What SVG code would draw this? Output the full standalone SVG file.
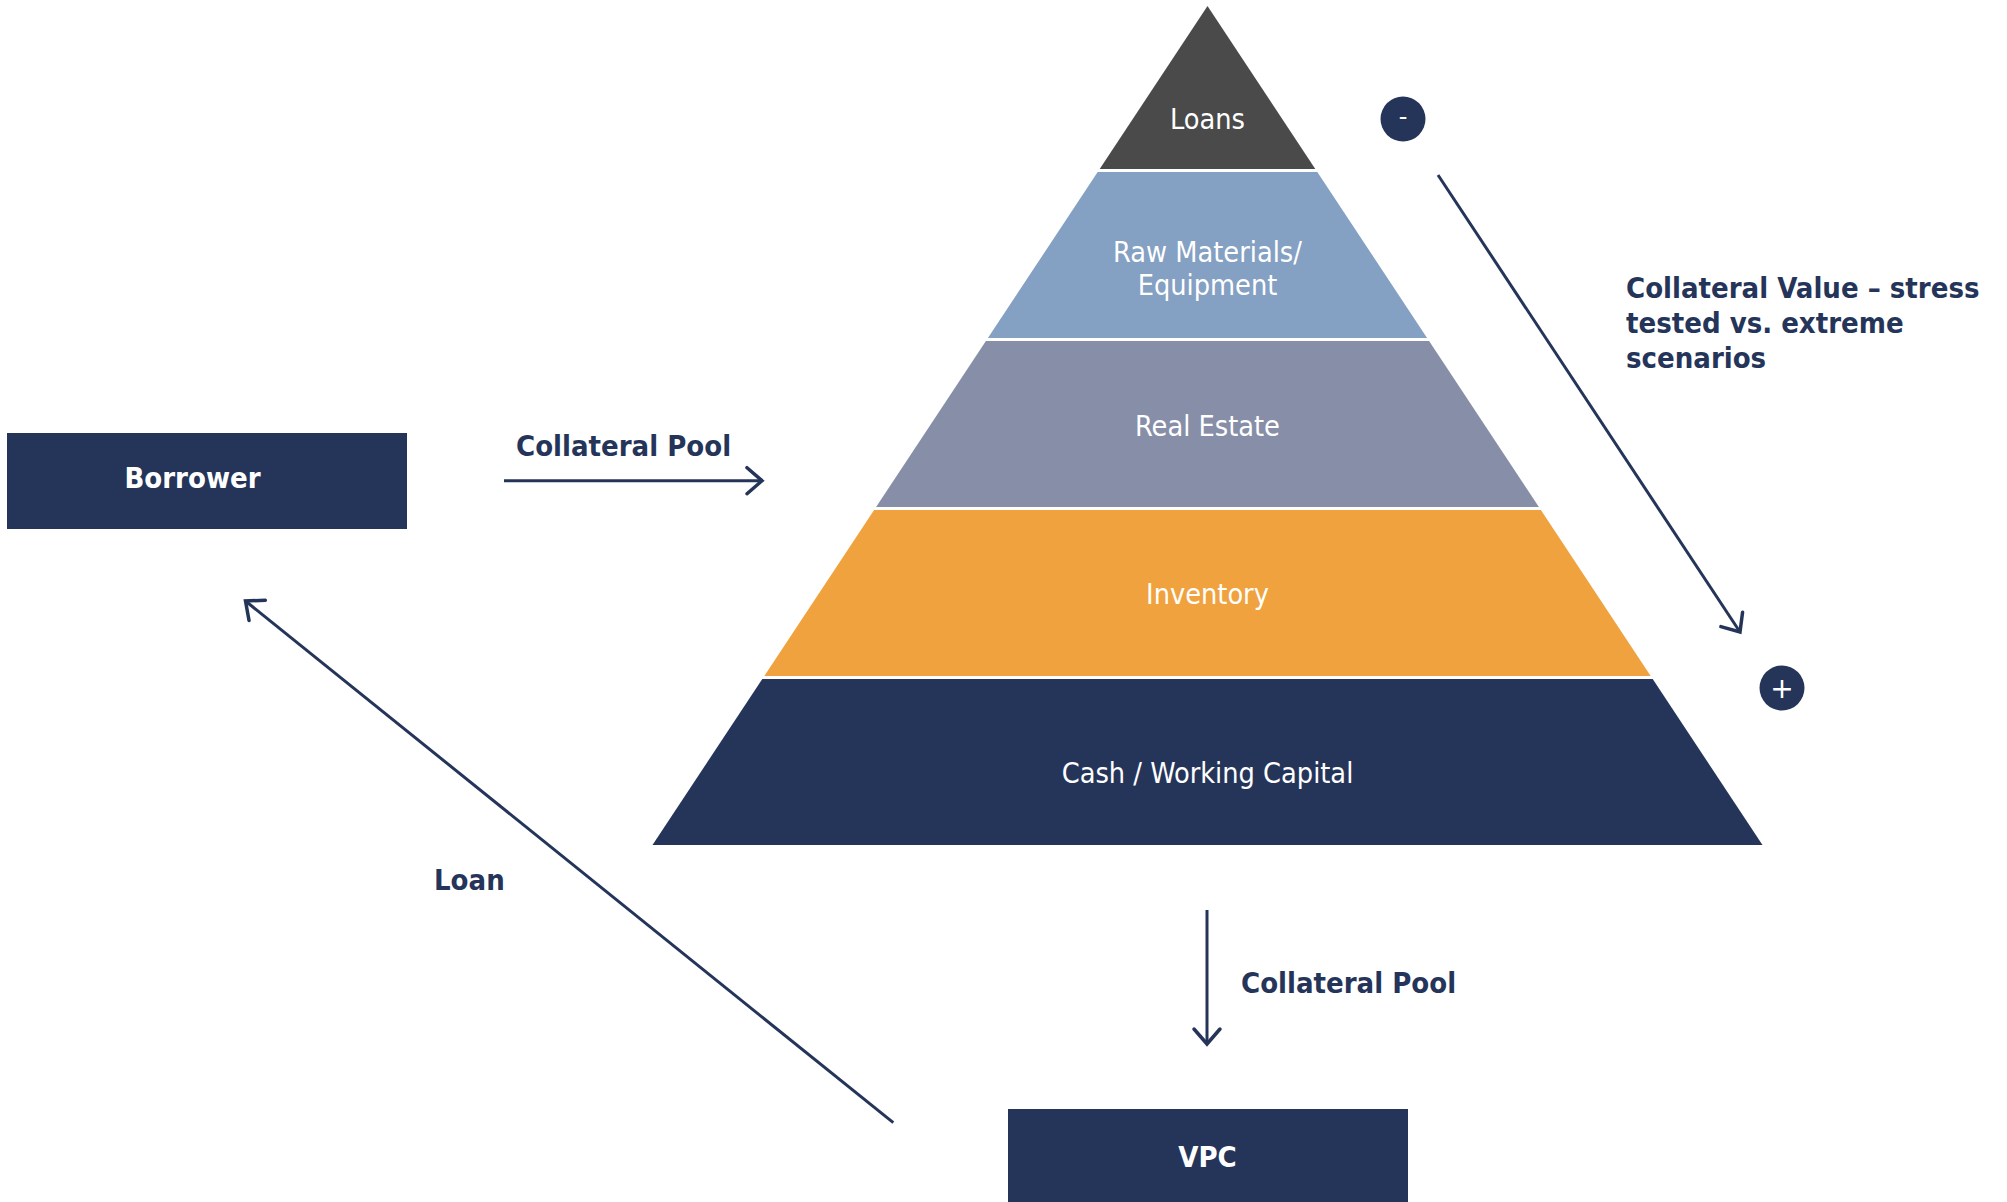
<svg xmlns="http://www.w3.org/2000/svg" width="2007" height="1202" viewBox="0 0 2007 1202">
<style>
.box{fill:#25355a}
.lbl{font-family:"DejaVu Sans Condensed","DejaVu Sans",sans-serif;font-weight:bold;font-size:29px;fill:#25355a}
.boxt{font-family:"DejaVu Sans Condensed","DejaVu Sans",sans-serif;font-weight:bold;font-size:29px;fill:#ffffff;text-anchor:middle}
.lay{font-family:"DejaVu Sans Condensed","DejaVu Sans",sans-serif;font-size:28.6px;fill:#ffffff;text-anchor:middle}
.sym{font-family:"DejaVu Sans",sans-serif;fill:#ffffff;text-anchor:middle}
.conn{stroke:#25355a;stroke-width:3;fill:none}
</style>
<defs>
<marker id="arr" markerUnits="userSpaceOnUse" markerWidth="40" markerHeight="40" refX="0" refY="0" viewBox="-20 -20 40 40" orient="auto">
<path d="M -15,-13 L 0,0 L -15,13" fill="none" stroke="#25355a" stroke-width="3.5" stroke-linecap="round" stroke-linejoin="miter"/>
</marker>
</defs>
<rect width="2007" height="1202" fill="#ffffff"/>
<g id="pyramid">
<g id="layer-loans"><polygon points="1207.5,6 1315.3,169 1099.7,169" fill="#4a4a4a"/><text class="lay" x="1207.5" y="129">Loans</text></g>
<g id="layer-raw"><polygon points="1097.7,172 1317.3,172 1427.1,338 987.9,338" fill="#84a0c2"/><text class="lay" x="1207.5" y="262">Raw Materials/</text><text class="lay" x="1207.5" y="295">Equipment</text></g>
<g id="layer-realestate"><polygon points="985.9,341 1429.1,341 1538.9,507 876.1,507" fill="#878ea8"/><text class="lay" x="1207.5" y="436">Real Estate</text></g>
<g id="layer-inventory"><polygon points="874.1,510 1540.9,510 1650.7,676 764.3,676" fill="#f0a23e"/><text class="lay" x="1207.5" y="604">Inventory</text></g>
<g id="layer-cash"><polygon points="762.3,679 1652.7,679 1762.5,845 652.5,845" fill="#25355a"/><text class="lay" x="1207.5" y="783">Cash / Working Capital</text></g>
</g>
<g id="borrower"><rect class="box" x="7" y="433" width="400" height="96"/><text class="boxt" x="192.5" y="488">Borrower</text></g>
<g id="vpc"><rect class="box" x="1008" y="1109" width="400" height="95"/><text class="boxt" x="1207.5" y="1167">VPC</text></g>
<g id="minus"><circle cx="1403" cy="119" r="22.5" fill="#25355a"/><text class="sym" x="1403" y="125" font-size="24">-</text></g>
<g id="plus"><circle cx="1782" cy="688" r="22.5" fill="#25355a"/><text class="sym" x="1782" y="698" font-size="28">+</text></g>
<g id="connectors">
<line class="conn" x1="504" y1="480.7" x2="762" y2="480.7" marker-end="url(#arr)"/>
<line class="conn" x1="1207" y1="910" x2="1207" y2="1044" marker-end="url(#arr)"/>
<line class="conn" x1="893.3" y1="1122.7" x2="245.5" y2="601" marker-end="url(#arr)"/>
<line class="conn" x1="1438" y1="175" x2="1740" y2="632" marker-end="url(#arr)"/>
</g>
<g id="labels">
<text class="lbl" x="516" y="456">Collateral Pool</text>
<text class="lbl" x="1241" y="993">Collateral Pool</text>
<text class="lbl" x="434" y="890">Loan</text>
<text class="lbl" x="1626" y="298">Collateral Value – stress</text>
<text class="lbl" x="1626" y="333">tested vs. extreme</text>
<text class="lbl" x="1626" y="368">scenarios</text>
</g>
</svg>
